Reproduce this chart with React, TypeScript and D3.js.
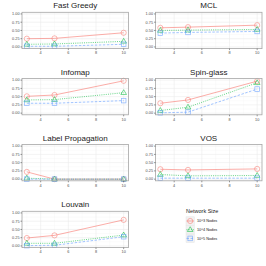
import React from 'react';
import * as d3 from 'd3';

// x values (parameter) shared by every panel
const xValues = [3, 5, 10];
const xTicks = [4, 6, 8, 10];
const yTicks = [0, 0.25, 0.5, 0.75, 1];

const panelTitles = ['Fast Greedy', 'MCL', 'Infomap', 'Spin-glass', 'Label Propagation', 'VOS', 'Louvain'];

// one row per panel: [10^3, 10^4, 10^5] series
const nodes3 = [
  [0.25, 0.26, 0.43],
  [0.58, 0.6, 0.66],
  [0.51, 0.55, 0.98],
  [0.3, 0.4, 0.97],
  [0.22, 0.0, 0.0],
  [0.3, 0.28, 0.31],
  [0.24, 0.32, 0.79],
];
const nodes4 = [
  [0.08, 0.09, 0.17],
  [0.5, 0.51, 0.53],
  [0.4, 0.41, 0.62],
  [0.08, 0.18, 0.92],
  [0.03, 0.0, 0.0],
  [0.14, 0.1, 0.11],
  [0.08, 0.08, 0.33],
];
const nodes5 = [
  [0.02, 0.02, 0.08],
  [0.42, 0.44, 0.47],
  [0.3, 0.3, 0.38],
  [0.01, 0.03, 0.73],
  [0.0, 0.0, 0.0],
  [0.03, 0.03, 0.03],
  [0.01, 0.02, 0.28],
];

const seriesLabels = ['10^3 Nodes', '10^4 Nodes', '10^5 Nodes'];
const seriesColors = ['#F8766D', '#00BA38', '#619CFF'];
const seriesDash = ['none', '1,1.2', '2.5,1.5'];

const colLeft = [22, 155.5];
const panelW = 106.5;
const rowTop = [12.3, 78.5, 144.5, 211.3];
const panelH = 36.3;

function Marker({ i, x, y, color }: { i: number; x: number; y: number; color: string }) {
  const common = { fill: 'none', stroke: color, strokeWidth: 0.7 };
  if (i === 0) return <circle cx={x} cy={y} r={2.6} {...common} />;
  if (i === 1) {
    const s = 3;
    return <path d={`M${x},${y - s}L${x + s * 0.95},${y + s * 0.6}L${x - s * 0.95},${y + s * 0.6}Z`} {...common} />;
  }
  return <rect x={x - 2.3} y={y - 2.3} width={4.6} height={4.6} {...common} />;
}

function Panel({ idx }: { idx: number }) {
  const col = idx % 2;
  const row = Math.floor(idx / 2);
  const left = colLeft[col];
  const top = rowTop[row];
  const x = d3.scaleLinear().domain([2.65, 10.35]).range([left, left + panelW]);
  const y = d3.scaleLinear().domain([-0.05, 1.05]).range([top + panelH, top]);
  const series = [nodes3[idx], nodes4[idx], nodes5[idx]];
  const line = d3.line<number>().x((_, j) => x(xValues[j])).y((d) => y(d));
  const minorX = [3, 5, 7, 9];
  const minorY = [0.125, 0.375, 0.625, 0.875];
  return (
    <g>
      <text x={left + panelW / 2} y={top - 4} textAnchor="middle" fontSize={8} fill="#1a1a1a">
        {panelTitles[idx]}
      </text>
      <rect x={left} y={top} width={panelW} height={panelH} fill="white" />
      {minorX.map((t) => (
        <line key={'mx' + t} x1={x(t)} x2={x(t)} y1={top} y2={top + panelH} stroke="#f5f5f5" strokeWidth={0.4} />
      ))}
      {minorY.map((t) => (
        <line key={'my' + t} x1={left} x2={left + panelW} y1={y(t)} y2={y(t)} stroke="#f5f5f5" strokeWidth={0.4} />
      ))}
      {xTicks.map((t) => (
        <line key={'gx' + t} x1={x(t)} x2={x(t)} y1={top} y2={top + panelH} stroke="#ebebeb" strokeWidth={0.6} />
      ))}
      {yTicks.map((t) => (
        <line key={'gy' + t} x1={left} x2={left + panelW} y1={y(t)} y2={y(t)} stroke="#ebebeb" strokeWidth={0.6} />
      ))}
      {series.map((s, i) => (
        <path
          key={'l' + i}
          d={line(s) || ''}
          fill="none"
          stroke={seriesColors[i]}
          strokeOpacity={0.75}
          strokeWidth={0.8}
          strokeDasharray={seriesDash[i]}
        />
      ))}
      {series.map((s, i) =>
        s.map((v, j) => (
          <g key={'p' + i + '-' + j} opacity={0.75}>
            <Marker i={i} x={x(xValues[j])} y={y(v)} color={seriesColors[i]} />
          </g>
        ))
      )}
      <rect x={left} y={top} width={panelW} height={panelH} fill="none" stroke="#a6a6a6" strokeWidth={0.8} />
      {yTicks.map((t) => (
        <g key={'ty' + t}>
          <line x1={left - 1.5} x2={left} y1={y(t)} y2={y(t)} stroke="#333" strokeWidth={0.5} />
          <text x={left - 2.5} y={y(t) + 1.3} textAnchor="end" fontSize={3.8} fill="#4d4d4d">
            {t.toFixed(2)}
          </text>
        </g>
      ))}
      {xTicks.map((t) => (
        <g key={'tx' + t}>
          <line x1={x(t)} x2={x(t)} y1={top + panelH} y2={top + panelH + 1.5} stroke="#333" strokeWidth={0.5} />
          <text x={x(t)} y={top + panelH + 5.8} textAnchor="middle" fontSize={3.8} fill="#4d4d4d">
            {t}
          </text>
        </g>
      ))}
    </g>
  );
}

function Legend() {
  const lx = 186;
  const ly = 213;
  return (
    <g>
      <text x={lx} y={ly} fontSize={5.5} fill="#1a1a1a">Network Size</text>
      {seriesLabels.map((lab, i) => {
        const cy = ly + 8 + i * 8.7;
        return (
          <g key={lab}>
            <rect x={lx} y={cy - 4.2} width={8.4} height={8.4} fill="#f2f2f2" stroke="#e0e0e0" strokeWidth={0.4} />
            <line
              x1={lx + 0.5}
              x2={lx + 7.9}
              y1={cy}
              y2={cy}
              stroke={seriesColors[i]}
              strokeOpacity={0.75}
              strokeWidth={0.8}
              strokeDasharray={seriesDash[i]}
            />
            <g opacity={0.75}>
              <Marker i={i} x={lx + 4.2} y={cy} color={seriesColors[i]} />
            </g>
            <text x={lx + 11} y={cy + 1.4} fontSize={3.8} fill="#1a1a1a">{lab}</text>
          </g>
        );
      })}
    </g>
  );
}

export default function App() {
  return (
    <div style={{ position: 'absolute', left: 0, top: 0 }}>
      <svg width={266} height={266} style={{ display: 'block', fontFamily: 'Liberation Sans, Arial, sans-serif' }}>
        <rect width={266} height={266} fill="white" />
        {panelTitles.map((_, i) => (
          <Panel key={i} idx={i} />
        ))}
        <Legend />
      </svg>
    </div>
  );
}
